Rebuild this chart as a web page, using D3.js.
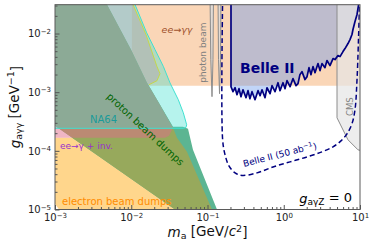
<!DOCTYPE html>
<html lang="en">
<head>
<meta charset="utf-8">
<title>ALP photon coupling limits</title>
<script src="https://d3js.org/d3.v7.min.js"></script>
<style>
  body { margin: 0; background: #fff; }
  svg { display: block; font-family: "DejaVu Sans", sans-serif; }
</style>
</head>
<body>
<script>
// tick values
var xMajor = [1e-3, 1e-2, 1e-1, 1, 10];
var yMajor = [1e-5, 1e-4, 1e-3, 1e-2];

// existing limits, [mass GeV, g GeV^-1]
var lepGammaGamma = [[0.0102, 0.00129], [12, 0.00129], [12, 0.05], [0.0102, 0.05]];
var electronBeamDumps = [[1.13e-3, 1e-5], [1e-3, 1.24e-5], [8e-4, 1.24e-5], [8e-4, 1.67e-4],
    [0.0436, 1.67e-4], [0.0538, 9.62e-5], [0.1146, 1e-5]];
var protonBeamDumpsOuter = [[8.6e-4, 3.07e-4], [0.0375, 1e-5], [0.1332, 1e-5], [0.0645, 1.04e-4],
    [0.0555, 2.38e-4], [0.0477, 2.57e-4], [0.0353, 2.57e-4], [0.0238, 6.11e-4], [0.0161, 1.45e-3],
    [9.92e-3, 5.32e-3], [4.81e-3, 0.0313], [4.35e-3, 0.04], [8e-4, 0.04]];
var protonBeamDumps = [[8.6e-4, 3.07e-4], [0.0375, 1e-5], [0.1146, 1e-5], [0.0538, 9.62e-5],
    [0.0398, 1.67e-4], [0.0353, 2.47e-4], [0.0238, 6.11e-4], [0.0161, 1.45e-3],
    [9.92e-3, 5.32e-3], [4.81e-3, 0.0313], [4.35e-3, 0.04], [8e-4, 0.04]];
var eeGammaInv = [[8e-4, 1.67e-4], [0.0277, 1.67e-4], [0.0313, 1.80e-4], [0.0332, 2.11e-4],
    [0.0353, 2.47e-4], [0.0238, 6.11e-4], [0.0161, 1.45e-3], [9.92e-3, 5.32e-3],
    [4.81e-3, 0.0313], [4.35e-3, 0.04], [8e-4, 0.04]];
var greyBand = [[4.35e-3, 0.04], [0.0102, 0.04], [0.01054, 0.0313], [0.01561, 0.00961],
    [0.02176, 0.00273], [0.02382, 0.00207], [0.02176, 0.00157], [0.01709, 0.00134],
    [0.01609, 1.45e-3], [9.92e-3, 5.32e-3], [4.81e-3, 0.0313]];
var na64 = [[8e-4, 0.05], [0.01035, 0.04], [0.0112, 0.0313], [0.01594, 0.01028], [0.02049, 0.00532],
    [0.02633, 0.00276], [0.03224, 0.00144], [0.0414, 7.45e-4], [0.04816, 4.46e-4],
    [0.05335, 2.78e-4], [0.05224, 2.5e-4], [0.04771, 2.42e-4], [8e-4, 2.42e-4]];
var photonBeamA = [[0.1078, 0.05], [0.1199, 0.05], [0.1180, 0.00359], [0.1146, 0.000838], [0.1105, 0.00359]];
var photonBeamB = [[0.1373, 0.05], [0.1503, 0.05], [0.1481, 0.00359], [0.1437, 0.000943], [0.1394, 0.00359]];
var cms = [[4.994, 0.05], [4.994, 3.66e-4], [6.96, 1.54e-4], [9.41, 1.04e-4], [10.6, 1e-4], [10.6, 0.05]];

// Belle II observed limit
var belle2Mass = [0.2033, 0.2033, 0.2160, 0.230, 0.2437, 0.2588, 0.2749, 0.2921, 0.3198, 0.3397,
    0.360, 0.3835, 0.420, 0.4595, 0.489, 0.5187, 0.568, 0.6031, 0.661, 0.7015,
    0.768, 0.8406, 0.893, 0.9777, 1.04, 1.103, 1.21, 1.322, 1.448, 1.538,
    1.63, 1.735, 1.90, 2.02, 2.144, 2.277, 2.418, 2.57, 2.813, 2.99,
    3.17, 3.47, 3.69, 4.04, 4.43, 4.70, 5.145, 5.47, 5.984, 6.36,
    6.96, 7.39, 7.85, 8.09, 8.60, 9.14, 9.41, 9.70];
var belle2Limit = [0.04, 0.00124, 0.00102, 0.00119, 0.000906, 0.001148, 0.000838, 0.00110, 0.000805, 0.001061,
    0.000774, 0.00102, 0.000745, 0.001061, 0.000871, 0.00110, 0.000805, 0.00119, 0.000943, 0.00129,
    0.00102, 0.00145, 0.001061, 0.00145, 0.001148, 0.00157, 0.00124, 0.00170, 0.00129, 0.00140,
    0.00199, 0.00224, 0.00164, 0.00184, 0.00262, 0.00199, 0.00273, 0.00215, 0.00307, 0.00233,
    0.00307, 0.00262, 0.00346, 0.00284, 0.00374, 0.00359, 0.00421, 0.00404, 0.00492, 0.00554,
    0.00675, 0.00788, 0.00961, 0.0117, 0.01603, 0.0211, 0.0268, 0.0339];

// Belle II projection, 50 ab^-1
var belle2ProjMass = [0.158, 0.158, 0.170, 0.191, 0.230, 0.283, 0.446, 0.723, 1.21, 2.02,
    3.17, 4.43, 5.63, 6.75, 7.85, 8.60, 9.14, 9.55, 9.85, 9.9];
var belle2ProjCoupling = [0.04, 1.54e-4, 8.55e-5, 5.55e-5, 4.21e-5, 3.81e-5, 4.21e-5, 5.32e-5, 6.49e-5, 7.88e-5,
    9.62e-5, 1.17e-4, 1.48e-4, 1.95e-4, 2.90e-4, 5.02e-4, 1.64e-3, 7.88e-3, 0.0313, 0.04];

var svgWidth = 374, svgHeight = 250;
var plotLeft = 55, plotRight = 360, plotTop = 4.7, plotBottom = 209.5;

var x = d3.scaleLog().domain([1e-3, 10]).range([plotLeft, plotRight]);
var y = d3.scaleLog().domain([1e-5, 0.031]).range([plotBottom, plotTop]);

var svg = d3.select("body").append("svg")
    .attr("width", svgWidth)
    .attr("height", svgHeight);

svg.append("defs").append("clipPath").attr("id", "plotClip")
    .append("rect")
    .attr("x", plotLeft).attr("y", plotTop)
    .attr("width", plotRight - plotLeft).attr("height", plotBottom - plotTop);

var plot = svg.append("g").attr("clip-path", "url(#plotClip)");

var line = d3.line().x(function(d) { return x(d[0]); }).y(function(d) { return y(d[1]); });

function region(pts, fill, opacity, stroke) {
    plot.append("path")
        .attr("d", line(pts) + "Z")
        .attr("fill", fill)
        .attr("fill-opacity", opacity)
        .attr("stroke", stroke || "none")
        .attr("stroke-width", 1);
}

region(lepGammaGamma, "#f4a460", 0.45);
region(electronBeamDumps, "#ffa500", 0.45);
region(protonBeamDumpsOuter, "#5cb592", 1);
region(protonBeamDumps, "#97a95c", 1);
region(eeGammaInv, "#e06c8a", 0.5);
region(na64, "#40e0d0", 0.38, "#40e0d0");
// unlabelled grey band sits on top of NA64
region(greyBand, "#b0b0b0", 0.6);
plot.append("path")
    .attr("d", line(greyBand.slice(1, 8)))
    .attr("fill", "none").attr("stroke", "#c5d84a").attr("stroke-width", 1);
region(photonBeamA, "#dcdcdc", 0.8, "#8c8c8c");
region(photonBeamB, "#dcdcdc", 0.8, "#8c8c8c");

var belle2 = belle2Mass.map(function(m, i) { return [m, belle2Limit[i]]; });
region(belle2.concat([[9.8, 0.05], [0.2033, 0.05]]), "#6495ed", 0.4);
region(cms, "#e6e6e6", 0.7, "#8c8c8c");

plot.append("path")
    .attr("d", line(belle2))
    .attr("fill", "none")
    .attr("stroke", "#000080")
    .attr("stroke-width", 1.7)
    .attr("stroke-linejoin", "round");

var proj = belle2ProjMass.map(function(m, i) { return [m, belle2ProjCoupling[i]]; });
plot.append("path")
    .attr("d", line.curve(d3.curveCatmullRom)(proj))
    .attr("fill", "none")
    .attr("stroke", "#000080")
    .attr("stroke-width", 1.5)
    .attr("stroke-dasharray", "5,3");
line.curve(d3.curveLinear);

// labels
function label(m, g, txt, opts) {
    var t = svg.append("text")
        .attr("transform", "translate(" + x(m) + "," + y(g) + ")" + (opts.rotate ? " rotate(" + opts.rotate + ")" : ""))
        .attr("font-size", opts.size + "px")
        .attr("fill", opts.color)
        .attr("text-anchor", opts.anchor || "start");
    if (opts.italic) t.attr("font-style", "italic");
    if (opts.bold) t.attr("font-weight", "bold");
    t.text(txt);
    return t;
}

label(0.0398, 0.0104, "ee\u2192\u03b3\u03b3", {size: 9.5, color: "#a0522d", italic: true, anchor: "middle"});
label(0.0956, 0.00473, "photon beam", {size: 9, color: "#808080", rotate: -90, anchor: "middle"});
label(0.267, 0.00215, "Belle II", {size: 14, color: "#000080", bold: true});
label(2.88e-3, 3.01e-4, "NA64", {size: 10, color: "#1a9a9a"});
label(0.01426, 2.11e-4, "proton beam dumps", {size: 10, color: "#006400", rotate: 43, anchor: "middle"});
label(1.163e-3, 1.08e-4, "ee\u2192\u03b3 + inv.", {size: 9, color: "#9932cc"});
label(1.235e-3, 1.19e-5, "electron beam dumps", {size: 10, color: "#ff8c00"});
label(8.09, 5.65e-4, "CMS", {size: 8.5, color: "#808080", rotate: -90, anchor: "middle"});

var proj50 = label(0.301, 5.32e-5, "Belle II (50 ab", {size: 9, color: "#000080", rotate: -14.6});
proj50.append("tspan").attr("dy", "-0.45em").attr("font-size", "6.5px").text("\u22121");
proj50.append("tspan").attr("dy", "0.45em").text(")");

var gz = label(7.85, 1.29e-5, "", {size: 13, color: "#000", anchor: "end"});
gz.append("tspan").attr("font-style", "italic").text("g");
gz.append("tspan").attr("font-size", "9px").attr("dy", "0.25em").text("a\u03b3Z");
gz.append("tspan").attr("dy", "-0.25em").text(" = 0");

// frame
svg.append("rect")
    .attr("x", plotLeft).attr("y", plotTop)
    .attr("width", plotRight - plotLeft).attr("height", plotBottom - plotTop)
    .attr("fill", "none").attr("stroke", "#5a5a5a").attr("stroke-width", 1);

// axes
function superTicks(sel) {
    sel.selectAll(".tick text").each(function(d) {
        var t = d3.select(this);
        var e = Math.round(Math.log10(d));
        t.text(null);
        t.append("tspan").text("10");
        t.append("tspan").attr("dy", "-0.5em").attr("font-size", "7px")
            .text(e < 0 ? "\u2212" + (-e) : String(e));
    });
}

function minorValues(lo, hi) {
    var out = [];
    for (var p = Math.floor(Math.log10(lo)); p <= Math.ceil(Math.log10(hi)); p++) {
        for (var k = 2; k <= 9; k++) {
            var v = k * Math.pow(10, p);
            if (v > lo && v < hi) out.push(v);
        }
    }
    return out;
}

var gx = svg.append("g").attr("transform", "translate(0," + plotBottom + ")")
    .call(d3.axisBottom(x).tickValues(xMajor).tickSize(-4.5).tickPadding(4.5));
var gxm = svg.append("g").attr("transform", "translate(0," + plotBottom + ")")
    .call(d3.axisBottom(x).tickValues(minorValues(1e-3, 10)).tickSize(-2.5).tickFormat(""));
var gy = svg.append("g").attr("transform", "translate(" + plotLeft + ",0)")
    .call(d3.axisLeft(y).tickValues(yMajor).tickSize(-4.5).tickPadding(4));
var gym = svg.append("g").attr("transform", "translate(" + plotLeft + ",0)")
    .call(d3.axisLeft(y).tickValues(minorValues(1e-5, 0.031)).tickSize(-2.5).tickFormat(""));

[gx, gxm, gy, gym].forEach(function(g) {
    g.select(".domain").remove();
    g.selectAll("line").attr("stroke", "#555");
    g.selectAll("text").attr("font-family", "DejaVu Sans").attr("font-size", "10px").attr("fill", "#222");
});
superTicks(gx);
superTicks(gy);

// axis titles
var xt = svg.append("text")
    .attr("x", (plotLeft + plotRight) / 2).attr("y", 236.5)
    .attr("text-anchor", "middle").attr("font-size", "13.5px").attr("fill", "#111");
xt.append("tspan").attr("font-style", "italic").text("m");
xt.append("tspan").attr("font-size", "9.5px").attr("dy", "0.25em").text("a");
xt.append("tspan").attr("dy", "-0.25em").text(" [GeV/");
xt.append("tspan").attr("font-style", "italic").text("c");
xt.append("tspan").attr("font-size", "9.5px").attr("dy", "-0.4em").text("2");
xt.append("tspan").attr("dy", "0.4em").text("]");

var yt = svg.append("text")
    .attr("transform", "translate(20," + (plotTop + plotBottom) / 2 + ") rotate(-90)")
    .attr("text-anchor", "middle").attr("font-size", "13.5px").attr("fill", "#111");
yt.append("tspan").attr("font-style", "italic").text("g");
yt.append("tspan").attr("font-size", "9.5px").attr("dy", "0.25em").text("a\u03b3\u03b3");
yt.append("tspan").attr("dy", "-0.25em").text(" [GeV");
yt.append("tspan").attr("font-size", "9.5px").attr("dy", "-0.5em").text("\u22121");
yt.append("tspan").attr("dy", "0.5em").text("]");
</script>
</body>
</html>
